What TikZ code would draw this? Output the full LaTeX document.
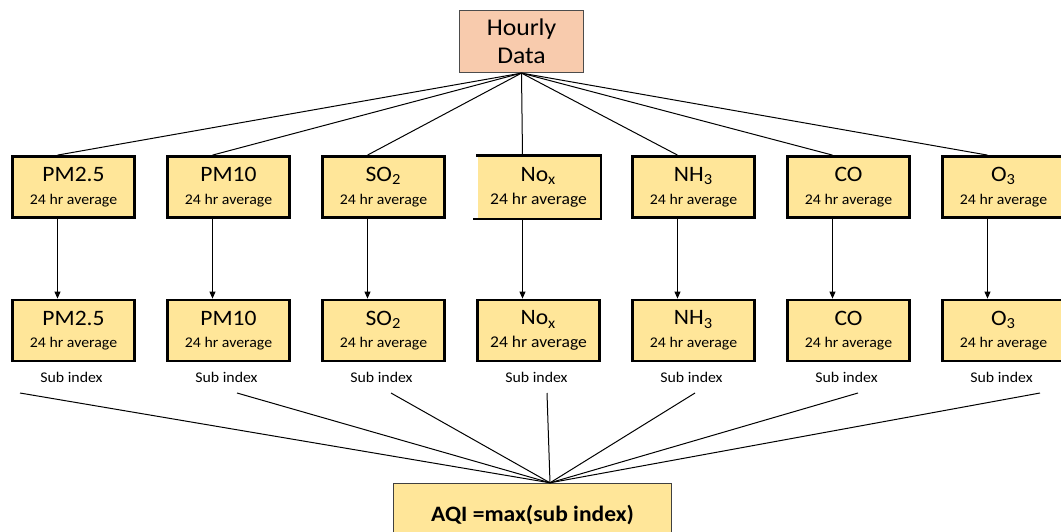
\documentclass[tikz,border=0pt]{standalone}
\usepackage{fontspec}
\setmainfont{Carlito}[FakeStretch=1.07]
\usetikzlibrary{arrows.meta}
\definecolor{hourfill}{HTML}{F8CBAD}
\definecolor{polfill}{HTML}{FFE699}
\newcommand{\gas}[1]{{\fontsize{11}{11.35}\selectfont #1}}

\begin{document}
\begin{tikzpicture}[x=0.5pt, y=-0.5pt,
    hourbox/.style={draw=black!70, fill=hourfill, line width=0.6pt, minimum width=62pt,
      minimum height=31pt, align=center, font=\fontsize{12}{14}\selectfont},
    polbox/.style={draw=black, fill=polfill, line width=1.4pt, minimum width=61pt,
      minimum height=30.5pt, align=center, font=\fontsize{7.4}{11.35}\selectfont},
    aqibox/.style={draw=black!75, fill=polfill, line width=0.7pt, minimum width=139pt,
      minimum height=31pt, font=\fontsize{11}{12}\selectfont\bfseries},
    sublabel/.style={font=\fontsize{7.4}{9}\selectfont},
    link/.style={line width=0.5pt},
    arrow/.style={line width=0.5pt, -{Triangle[length=3.5pt,width=3pt]}}]
    \clip (0,0) rectangle (1061,531);
    \fill[white] (0,0) rectangle (1061,531);
    % hourly input
    \node[hourbox] (hour) at (521.5,41.5) {Hourly\\Data};
    % 24 hr averages
    \node[polbox] (a1) at (73.5,187) {\gas{PM2.5}\\24 hr average};
    \node[polbox] (a2) at (228.5,187) {\gas{PM10}\\24 hr average};
    \node[polbox] (a3) at (383.5,187) {\gas{SO\textsubscript{2}}\\24 hr average};
    \node[polbox, draw=none] (a4) at (538.5,187) {\gas{No\textsubscript{x}}\\{\fontsize{8.2}{11.35}\selectfont 24 hr average}};
    \draw[line width=1.4pt] ([xshift=-1.5pt]a4.south west) -- (a4.south east)
      -- (a4.north east) -- (a4.north west);
    \node[polbox] (a5) at (693.5,187) {\gas{NH\textsubscript{3}}\\24 hr average};
    \node[polbox] (a6) at (848.5,187) {\gas{CO}\\24 hr average};
    \node[polbox] (a7) at (1003.5,187) {\gas{O\textsubscript{3}}\\24 hr average};
    % sub indices
    \node[polbox] (b1) at (73.5,330.5) {\gas{PM2.5}\\24 hr average};
    \node[polbox] (b2) at (228.5,330.5) {\gas{PM10}\\24 hr average};
    \node[polbox] (b3) at (383.5,330.5) {\gas{SO\textsubscript{2}}\\24 hr average};
    \node[polbox] (b4) at (538.5,330.5) {\gas{No\textsubscript{x}}\\{\fontsize{8.2}{11.35}\selectfont 24 hr average}};
    \node[polbox] (b5) at (693.5,330.5) {\gas{NH\textsubscript{3}}\\24 hr average};
    \node[polbox] (b6) at (848.5,330.5) {\gas{CO}\\24 hr average};
    \node[polbox] (b7) at (1003.5,330.5) {\gas{O\textsubscript{3}}\\24 hr average};
    \node[sublabel] (s1) at (71.5,377) {Sub index};
    \node[sublabel] (s2) at (226.5,377) {Sub index};
    \node[sublabel] (s3) at (381.5,377) {Sub index};
    \node[sublabel] (s4) at (536.5,377) {Sub index};
    \node[sublabel] (s5) at (691.5,377) {Sub index};
    \node[sublabel] (s6) at (846.5,377) {Sub index};
    \node[sublabel] (s7) at (1001.5,377) {Sub index};
    % result
    \node[aqibox] (aqi) at (532.5,514.5) {AQI =max(sub index)};
    \coordinate (c1) at (20,393);
    \coordinate (c2) at (237,393);
    \coordinate (c3) at (391,393);
    \coordinate (c4) at (547,393);
    \coordinate (c5) at (695,393);
    \coordinate (c6) at (858,393);
    \coordinate (c7) at (1040,393);
    % connectors
    \draw[link] (hour.south) -- ([xshift=-8pt]a1.north);
    \draw[link] (hour.south) -- ([xshift=-8pt]a2.north);
    \draw[link] (hour.south) -- ([xshift=-8pt]a3.north);
    \draw[link] (hour.south) -- ([xshift=-8pt]a4.north);
    \draw[link] (hour.south) -- ([xshift=-8pt]a5.north);
    \draw[link] (hour.south) -- ([xshift=-8pt]a6.north);
    \draw[link] (hour.south) -- ([xshift=-8pt]a7.north);
    \draw[arrow] ([xshift=-8pt]a1.south) -- ([xshift=-8pt]b1.north);
    \draw[arrow] ([xshift=-8pt]a2.south) -- ([xshift=-8pt]b2.north);
    \draw[arrow] ([xshift=-8pt]a3.south) -- ([xshift=-8pt]b3.north);
    \draw[arrow] ([xshift=-8pt]a4.south) -- ([xshift=-8pt]b4.north);
    \draw[arrow] ([xshift=-8pt]a5.south) -- ([xshift=-8pt]b5.north);
    \draw[arrow] ([xshift=-8pt]a6.south) -- ([xshift=-8pt]b6.north);
    \draw[arrow] ([xshift=-8pt]a7.south) -- ([xshift=-8pt]b7.north);
    \draw[link] (c1) -- ([xshift=8.75pt]aqi.north);
    \draw[link] (c2) -- ([xshift=8.75pt]aqi.north);
    \draw[link] (c3) -- ([xshift=8.75pt]aqi.north);
    \draw[link] (c4) -- ([xshift=8.75pt]aqi.north);
    \draw[link] (c5) -- ([xshift=8.75pt]aqi.north);
    \draw[link] (c6) -- ([xshift=8.75pt]aqi.north);
    \draw[link] (c7) -- ([xshift=8.75pt]aqi.north);
  \end{tikzpicture}
\end{document}
